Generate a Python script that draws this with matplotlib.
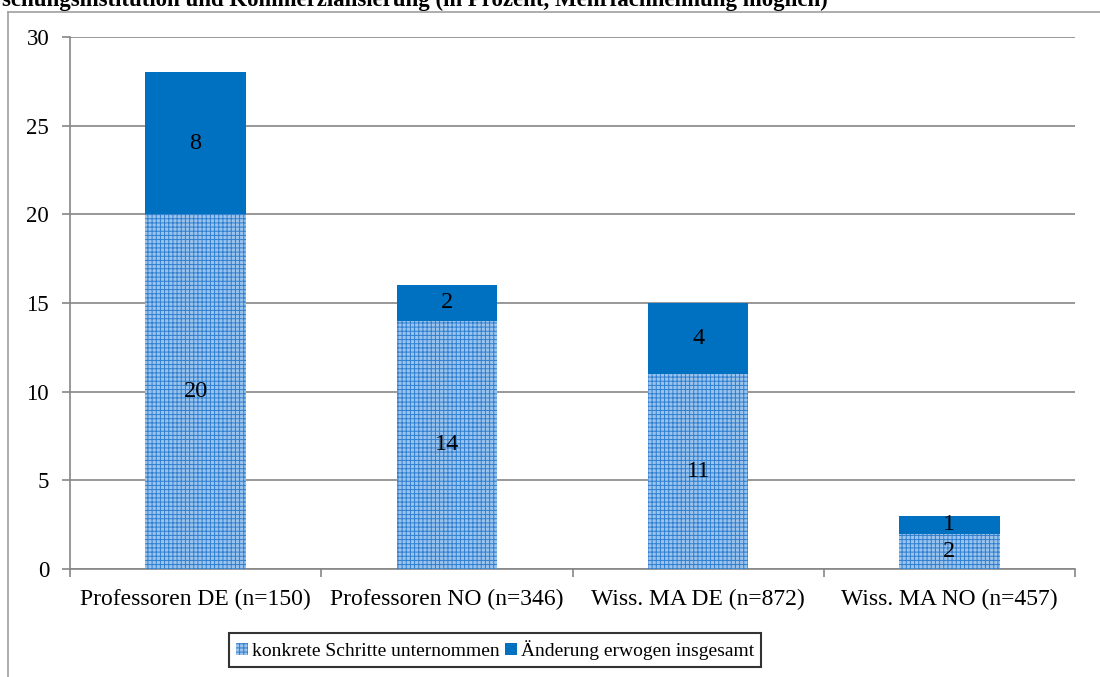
import matplotlib
matplotlib.use("Agg")
import matplotlib.pyplot as plt
from matplotlib.lines import Line2D
from matplotlib.patches import Patch
import numpy as np

categories = ["Professoren DE (n=150)", "Professoren NO (n=346)",
              "Wiss. MA DE (n=872)", "Wiss. MA NO (n=457)"]
konkrete_schritte = [20, 14, 11, 2]
erwogen_zusatz = [8, 2, 4, 1]
series_names = ["konkrete Schritte unternommen", "Änderung erwogen insgesamt"]
y_ticks = [0, 5, 10, 15, 20, 25, 30]
title = "schungsinstitution und Kommerzialisierung (in Prozent, Mehrfachnennung möglich)"

plt.rcParams["font.family"] = ["Liberation Serif", "DejaVu Serif"]
plt.rcParams["hatch.linewidth"] = 0.7

W, H = 1100, 677
fig = plt.figure(figsize=(W / 100, H / 100), dpi=100)

# plot area in pixel coordinates
px_l, px_r, px_t, px_b = 70, 1075, 37, 569
ax = fig.add_axes([px_l / W, (H - px_b) / H, (px_r - px_l) / W, (px_b - px_t) / H])

light_blue = "#9cc3ec"
hatch_blue = "#2f7fd0"
dark_blue = "#0070c0"
grid_gray = "#868686"

x = np.arange(len(categories))
bw = 0.4
bars1 = ax.bar(x, konkrete_schritte, bw, color=light_blue, edgecolor=hatch_blue,
               hatch="++++", linewidth=0, zorder=3)
bars2 = ax.bar(x, erwogen_zusatz, bw, bottom=konkrete_schritte, color=dark_blue,
               linewidth=0, zorder=3)

fs_lab = 17.5
for bars, vals in ((bars1, konkrete_schritte), (bars2, erwogen_zusatz)):
    for b, v in zip(bars, vals):
        ax.text(b.get_x() + b.get_width() / 2, b.get_y() + b.get_height() / 2, str(v),
                ha="center", va="center", fontsize=fs_lab, color="black", zorder=4)

ax.set_xlim(-0.5, len(categories) - 0.5)
ax.set_ylim(0, 30)
ax.set_yticks(y_ticks)
ax.set_yticklabels([str(t) for t in y_ticks], fontsize=16.5)
ax.yaxis.grid(True, color=grid_gray, linewidth=1.2, zorder=0)
ax.set_axisbelow(True)

ax.set_xticks(x)
ax.set_xticklabels(categories, fontsize=17)
ax.tick_params(axis="x", which="major", length=0, pad=14)
ax.set_xticks(np.arange(len(categories) + 1) - 0.5, minor=True)
ax.tick_params(axis="x", which="minor", length=6, color=grid_gray, width=1.2)
ax.tick_params(axis="y", length=6, color=grid_gray, width=1.2, pad=9)

for s in ["top", "right"]:
    ax.spines[s].set_visible(False)
for s in ["left", "bottom"]:
    ax.spines[s].set_color(grid_gray)
    ax.spines[s].set_linewidth(1.2)

# outer chart frame
frame_color = "#a0a0a0"
fig.add_artist(Line2D([8 / W, 8 / W], [0, 1 - 12 / H], transform=fig.transFigure,
                      color=frame_color, linewidth=1.2))
fig.add_artist(Line2D([8 / W, 1], [1 - 12 / H, 1 - 12 / H], transform=fig.transFigure,
                      color=frame_color, linewidth=1.2))

# title, partly cut by the top edge
fig.text(2 / W, 1 - 6 / H, title, fontsize=16.5, fontweight="bold", ha="left",
         va="baseline")

handles = [Patch(facecolor=light_blue, edgecolor=hatch_blue, hatch="++++", linewidth=0),
           Patch(facecolor=dark_blue, linewidth=0)]
leg = fig.legend(handles, series_names, loc="center", bbox_to_anchor=(495 / W, 1 - 650 / H),
                 ncol=2, fontsize=14, frameon=True, fancybox=False, handlelength=0.6,
                 handleheight=0.6, handletextpad=0.2, columnspacing=0.3, borderpad=0.35,
                 borderaxespad=0)
leg.get_frame().set_edgecolor("black")
leg.get_frame().set_linewidth(1.5)

fig.savefig("out.png", dpi=100)
